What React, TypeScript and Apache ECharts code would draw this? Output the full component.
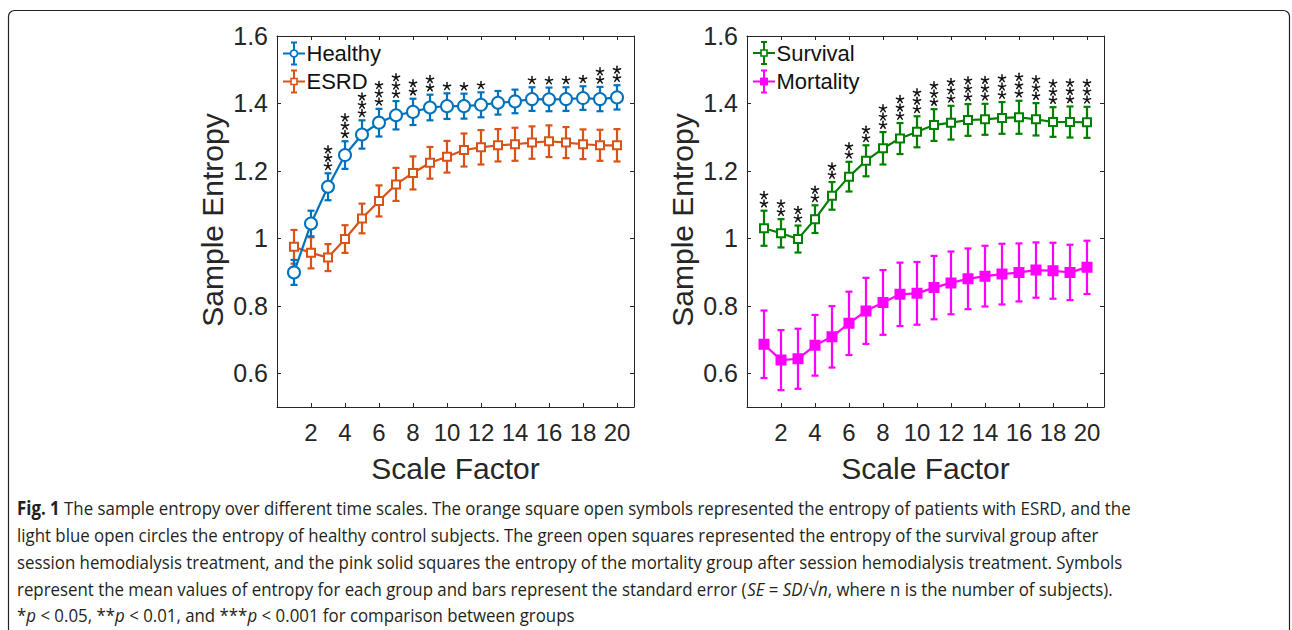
import React, { useEffect, useRef } from "react";
import * as echarts from "echarts";

// ---------------- data ----------------
const scaleFactors = [1, 2, 3, 4, 5, 6, 7, 8, 9, 10, 11, 12, 13, 14, 15, 16, 17, 18, 19, 20];
const xTickValues = [2, 4, 6, 8, 10, 12, 14, 16, 18, 20];
const yTickValues = [0.6, 0.8, 1.0, 1.2, 1.4, 1.6];

const healthyMean = [0.899, 1.044, 1.153, 1.247, 1.308, 1.343, 1.365, 1.375, 1.388, 1.392, 1.392, 1.396, 1.402, 1.406, 1.413, 1.412, 1.413, 1.416, 1.413, 1.418];
const healthySE = [0.037, 0.038, 0.04, 0.041, 0.042, 0.041, 0.042, 0.039, 0.038, 0.038, 0.037, 0.037, 0.035, 0.035, 0.035, 0.035, 0.035, 0.035, 0.036, 0.036];
const esrdMean = [0.975, 0.957, 0.943, 0.998, 1.059, 1.111, 1.16, 1.194, 1.224, 1.242, 1.262, 1.27, 1.276, 1.279, 1.284, 1.288, 1.284, 1.279, 1.276, 1.276];
const esrdSE = [0.05, 0.046, 0.04, 0.041, 0.044, 0.046, 0.049, 0.049, 0.047, 0.047, 0.049, 0.051, 0.048, 0.049, 0.048, 0.047, 0.046, 0.044, 0.046, 0.048];
const survivalMean = [1.03, 1.015, 0.998, 1.057, 1.126, 1.183, 1.23, 1.267, 1.296, 1.316, 1.336, 1.343, 1.351, 1.353, 1.357, 1.359, 1.353, 1.345, 1.345, 1.344];
const survivalSE = [0.052, 0.042, 0.04, 0.041, 0.041, 0.044, 0.046, 0.048, 0.046, 0.046, 0.047, 0.05, 0.047, 0.046, 0.047, 0.049, 0.048, 0.044, 0.046, 0.046];
const mortalityMean = [0.686, 0.639, 0.643, 0.683, 0.708, 0.748, 0.785, 0.81, 0.834, 0.837, 0.854, 0.868, 0.88, 0.888, 0.894, 0.899, 0.906, 0.904, 0.899, 0.914];
const mortalitySE = [0.1, 0.089, 0.089, 0.09, 0.091, 0.094, 0.098, 0.096, 0.094, 0.093, 0.094, 0.093, 0.09, 0.09, 0.09, 0.086, 0.082, 0.083, 0.082, 0.079];

// number of significance stars per scale factor
const starsLeft = [0, 0, 3, 3, 3, 3, 3, 2, 2, 1, 1, 1, 0, 0, 1, 1, 1, 1, 2, 2];
const starsRight = [2, 2, 2, 2, 2, 2, 2, 3, 3, 3, 3, 3, 3, 3, 3, 3, 3, 3, 3, 3];

const captionLines = [
  "{b|Fig. 1} The sample entropy over different time scales. The orange square open symbols represented the entropy of patients with ESRD, and the",
  "light blue open circles the entropy of healthy control subjects. The green open squares represented the entropy of the survival group after",
  "session hemodialysis treatment, and the pink solid squares the entropy of the mortality group after session hemodialysis treatment. Symbols",
  "represent the mean values of entropy for each group and bars represent the standard error ({i|SE} = {i|SD}/√{i|n}, where n is the number of subjects).",
  "*{i|p} < 0.05, **{i|p} < 0.01, and ***{i|p} < 0.001 for comparison between groups",
];

// ---------------- style ----------------
const BLUE = "#0072BD";
const ORANGE = "#D95319";
const GREEN = "#008000";
const MAGENTA = "#FF00FF";
const INK = "#262626";
const AX_FONT = "Liberation Sans";
const CAP_FONT = "Open Sans";

const GRID_W = 357;
const GRID_H = 371;
const GRID_TOP = 36;
const LEFT_X = 277;
const RIGHT_X = 747;

function errRender(color: string) {
  return (params: any, api: any) => {
    const x = api.value(0);
    const m = api.value(1);
    const s = api.value(2);
    const top = api.coord([x, m + s]);
    const bot = api.coord([x, m - s]);
    const hw = 3.5;
    const style = { stroke: color, lineWidth: 2.2, fill: null };
    return {
      type: "group",
      children: [
        { type: "line", shape: { x1: top[0], y1: top[1], x2: bot[0], y2: bot[1] }, style },
        { type: "line", shape: { x1: top[0] - hw, y1: top[1], x2: top[0] + hw, y2: top[1] }, style },
        { type: "line", shape: { x1: bot[0] - hw, y1: bot[1], x2: bot[0] + hw, y2: bot[1] }, style },
      ],
    };
  };
}

function starRender(params: any, api: any) {
  const x = api.value(0);
  const t = api.value(1);
  const n = api.value(2);
  const p = api.coord([x, t]);
  const children: any[] = [];
  const r = 3.8;
  for (let i = 0; i < n; i++) {
    const cy = p[1] - 7 - i * 8.3;
    for (let k = 0; k < 5; k++) {
      const a = ((-90 + 72 * k) * Math.PI) / 180;
      children.push({
        type: "line",
        shape: { x1: p[0], y1: cy, x2: p[0] + r * Math.cos(a), y2: cy + r * Math.sin(a) },
        style: { stroke: "#111", lineWidth: 1.5, lineCap: "round" },
      });
    }
  }
  return { type: "group", children };
}

function xAxisCfg(grid: number, pos: "top" | "bottom", labels: boolean) {
  return {
    type: "value",
    gridIndex: grid,
    position: pos,
    min: 0,
    max: 21,
    axisLine: { show: true, onZero: false, lineStyle: { color: INK, width: 1 } },
    axisTick: { show: true, inside: true, length: 4, customValues: xTickValues, lineStyle: { color: INK, width: 1 } },
    axisLabel: {
      show: labels,
      customValues: xTickValues,
      fontSize: 24,
      fontFamily: AX_FONT,
      color: INK,
      margin: 13,
    },
    splitLine: { show: false },
  };
}

function yAxisCfg(grid: number, pos: "left" | "right", labels: boolean) {
  return {
    type: "value",
    gridIndex: grid,
    position: pos,
    min: 0.5,
    max: 1.6,
    axisLine: { show: true, onZero: false, lineStyle: { color: INK, width: 1 } },
    axisTick: { show: true, inside: true, length: 4, customValues: yTickValues, lineStyle: { color: INK, width: 1 } },
    axisLabel: {
      show: labels,
      customValues: yTickValues,
      fontSize: 25,
      fontFamily: AX_FONT,
      color: INK,
      margin: 9,
      formatter: (v: number) => String(Math.round(v * 10) / 10),
    },
    splitLine: { show: false },
  };
}

function lineSeries(name: string, mean: number[], color: string, symbol: string, size: number, filled: boolean, axis: number) {
  return {
    type: "line",
    name,
    xAxisIndex: axis,
    yAxisIndex: axis,
    data: scaleFactors.map((x, i) => [x, mean[i]]),
    symbol,
    symbolSize: size,
    showSymbol: true,
    color,
    lineStyle: { color, width: 2.2 },
    itemStyle: { color: filled ? color : "#ffffff", borderColor: color, borderWidth: 2 },
    z: 4,
  };
}

function errSeries(name: string, mean: number[], se: number[], color: string, axis: number) {
  return {
    type: "custom",
    name: name + " SE",
    xAxisIndex: axis,
    yAxisIndex: axis,
    data: scaleFactors.map((x, i) => [x, mean[i], se[i]]),
    encode: { x: 0, y: 1 },
    renderItem: errRender(color),
    z: 3,
  };
}

function starSeries(counts: number[], mean: number[], se: number[], axis: number) {
  return {
    type: "custom",
    name: "significance",
    xAxisIndex: axis,
    yAxisIndex: axis,
    data: scaleFactors.map((x, i) => [x, mean[i] + se[i], counts[i]]),
    encode: { x: 0, y: 1 },
    renderItem: starRender,
    z: 5,
  };
}

function legendItem(cx: number, cy: number, color: string, label: string, marker: "circle" | "square" | "filled") {
  const st = { stroke: color, lineWidth: 2, fill: null };
  const children: any[] = [
    { type: "line", shape: { x1: cx - 11, y1: cy, x2: cx + 11, y2: cy }, style: st },
    { type: "line", shape: { x1: cx, y1: cy - 11, x2: cx, y2: cy + 11 }, style: st },
    { type: "line", shape: { x1: cx - 3, y1: cy - 11, x2: cx + 3, y2: cy - 11 }, style: st },
    { type: "line", shape: { x1: cx - 3, y1: cy + 11, x2: cx + 3, y2: cy + 11 }, style: st },
  ];
  if (marker === "circle") {
    children.push({ type: "circle", shape: { cx, cy, r: 3.5 }, style: { fill: "#fff", stroke: color, lineWidth: 1.6 } });
  } else if (marker === "square") {
    children.push({ type: "rect", shape: { x: cx - 3, y: cy - 3, width: 6, height: 6 }, style: { fill: "#fff", stroke: color, lineWidth: 1.6 } });
  } else {
    children.push({ type: "rect", shape: { x: cx - 3.5, y: cy - 3.5, width: 7, height: 7 }, style: { fill: color, stroke: color, lineWidth: 1 } });
  }
  children.push({
    type: "text",
    x: cx + 12.5,
    y: cy,
    style: { text: label, fontSize: 22, fontFamily: AX_FONT, fill: "#111", verticalAlign: "middle", align: "left" },
  });
  return { type: "group", children };
}

function measureCaptionScale(fontSize: number) {
  try {
    const c = document.createElement("canvas").getContext("2d");
    if (!c) return 0.82;
    c.font = `bold ${fontSize}px "${CAP_FONT}"`;
    const w1 = c.measureText("Fig. 1").width;
    c.font = `${fontSize}px "${CAP_FONT}"`;
    const w2 = c.measureText(
      " The sample entropy over different time scales. The orange square open symbols represented the entropy of patients with ESRD, and the"
    ).width;
    return 1115 / (w1 + w2);
  } catch (e) {
    return 0.82;
  }
}

function yTitle(x: number) {
  return {
    type: "text",
    x,
    y: 220,
    rotation: Math.PI / 2,
    style: { text: "Sample Entropy", fontSize: 30, fontFamily: AX_FONT, fill: INK, align: "center", verticalAlign: "middle" },
  };
}

function xTitle(x: number) {
  return {
    type: "text",
    x,
    y: 468,
    style: { text: "Scale Factor", fontSize: 30, fontFamily: AX_FONT, fill: INK, align: "center", verticalAlign: "middle" },
  };
}

export default function App() {
  const ref = useRef<HTMLDivElement>(null);
  useEffect(() => {
    if (!ref.current) return;
    const chart = echarts.init(ref.current, null, { renderer: "svg" });
    const capSize = 19;
    const capScale = measureCaptionScale(capSize);
    const captionY = [508, 535, 562, 589, 615];

    const option: any = {
      animation: false,
      backgroundColor: "#ffffff",
      grid: [
        { left: LEFT_X, top: GRID_TOP, width: GRID_W, height: GRID_H, containLabel: false },
        { left: RIGHT_X, top: GRID_TOP, width: GRID_W, height: GRID_H, containLabel: false },
      ],
      xAxis: [xAxisCfg(0, "bottom", true), xAxisCfg(0, "top", false), xAxisCfg(1, "bottom", true), xAxisCfg(1, "top", false)],
      yAxis: [yAxisCfg(0, "left", true), yAxisCfg(0, "right", false), yAxisCfg(1, "left", true), yAxisCfg(1, "right", false)],
      series: [
        errSeries("ESRD", esrdMean, esrdSE, ORANGE, 0),
        lineSeries("ESRD", esrdMean, ORANGE, "rect", 8, false, 0),
        errSeries("Healthy", healthyMean, healthySE, BLUE, 0),
        lineSeries("Healthy", healthyMean, BLUE, "circle", 12, false, 0),
        starSeries(starsLeft, healthyMean, healthySE, 0),
        errSeries("Mortality", mortalityMean, mortalitySE, MAGENTA, 2),
        lineSeries("Mortality", mortalityMean, MAGENTA, "rect", 9, true, 2),
        errSeries("Survival", survivalMean, survivalSE, GREEN, 2),
        lineSeries("Survival", survivalMean, GREEN, "rect", 8, false, 2),
        starSeries(starsRight, survivalMean, survivalSE, 2),
      ],
      graphic: [
        {
          type: "rect",
          shape: { x: 8.5, y: 10.5, width: 1281, height: 700, r: 6 },
          style: { fill: "none", stroke: "#222", lineWidth: 1.2 },
          silent: true,
        },
        legendItem(294, 53.5, BLUE, "Healthy", "circle"),
        legendItem(294, 81.5, ORANGE, "ESRD", "square"),
        legendItem(764, 53, GREEN, "Survival", "square"),
        legendItem(764, 81.5, MAGENTA, "Mortality", "filled"),
        yTitle(LEFT_X - 65),
        yTitle(RIGHT_X - 65),
        xTitle(LEFT_X + GRID_W / 2),
        xTitle(RIGHT_X + GRID_W / 2),
        ...captionLines.map((line, i) => ({
          type: "text",
          x: 17,
          y: captionY[i],
          scaleX: capScale,
          style: {
            text: line,
            fontSize: capSize,
            fontFamily: CAP_FONT,
            fill: "#231f20",
            verticalAlign: "middle",
            align: "left",
            rich: {
              b: { fontWeight: "bold", fontSize: capSize, fontFamily: CAP_FONT, fill: "#231f20" },
              i: { fontStyle: "italic", fontSize: capSize, fontFamily: CAP_FONT, fill: "#231f20" },
            },
          },
        })),
      ],
    };
    chart.setOption(option);
    return () => chart.dispose();
  }, []);
  return <div ref={ref} style={{ position: "absolute", left: 0, top: 0, width: 1292, height: 630 }} />;
}
